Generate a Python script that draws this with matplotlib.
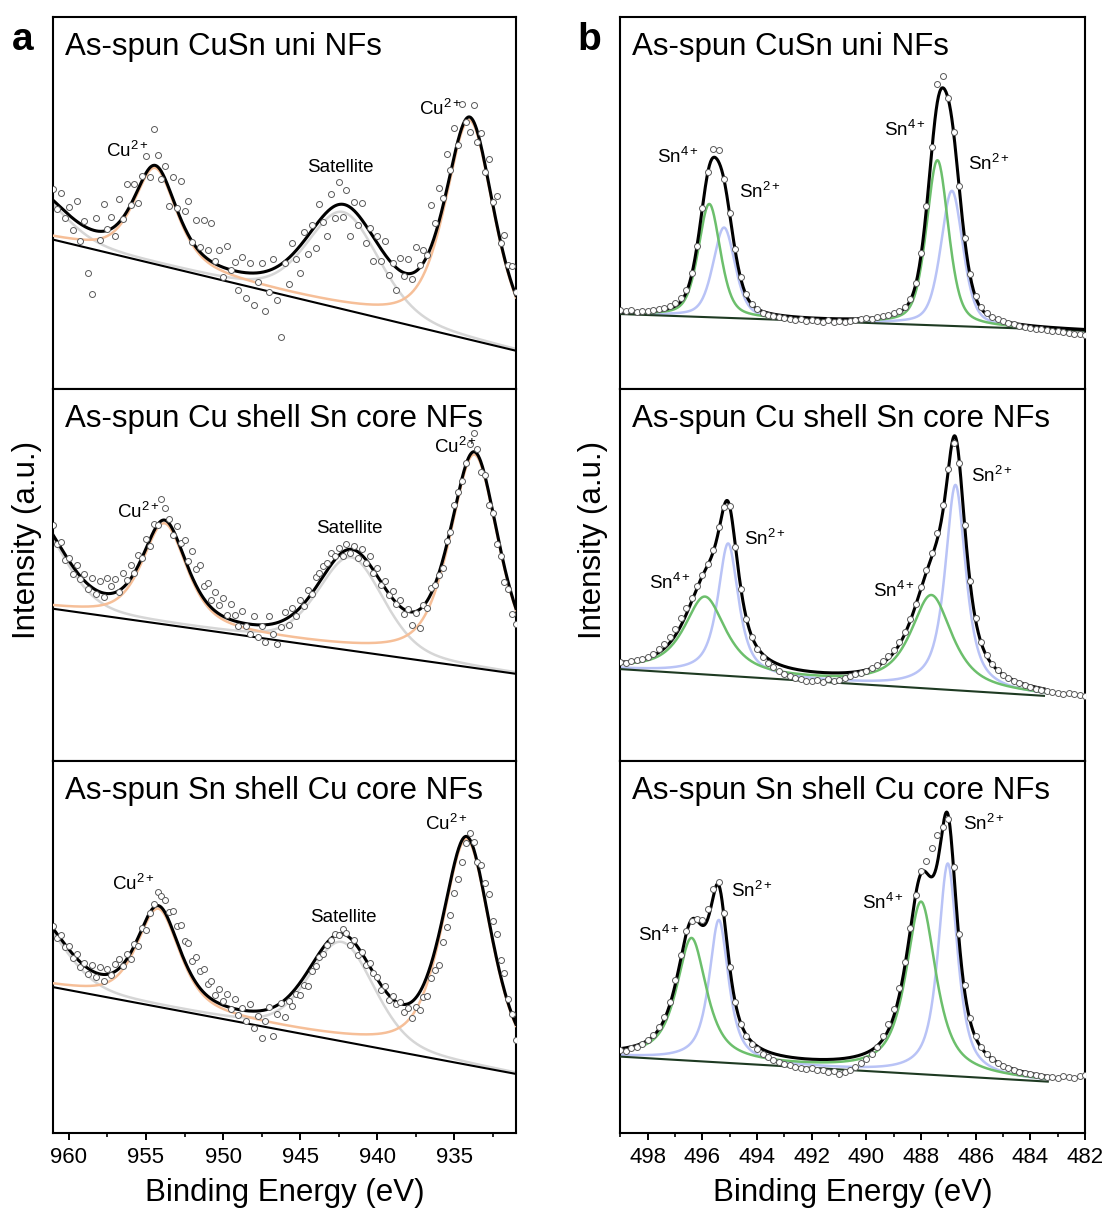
import numpy as np
import matplotlib
matplotlib.use("Agg")
import matplotlib.pyplot as plt
from matplotlib.ticker import MultipleLocator

plt.rcParams["font.family"] = ["Liberation Sans", "DejaVu Sans"]
plt.rcParams["mathtext.fontset"] = "custom"
plt.rcParams["mathtext.rm"] = "Liberation Sans"
plt.rcParams["mathtext.it"] = "Liberation Sans:italic"
plt.rcParams["mathtext.bf"] = "Liberation Sans:bold"

panel_titles = ["As-spun CuSn uni NFs", "As-spun Cu shell Sn core NFs", "As-spun Sn shell Cu core NFs"]

# ---------------- Cu 2p (column a) ----------------
cu_energy = np.arange(961.0, 930.9, -0.25)
cu_uni_counts = [200, 180, 196, 171, 182, 159, 188, 148, 168, 116,
                 95, 171, 149, 185, 160, 172, 153, 190, 170, 205,
                 184, 205, 186, 213, 233, 212, 260, 234, 210, 223,
                 183, 212, 181, 208, 178, 188, 147, 169, 142, 169,
                 139, 166, 128, 139, 112, 143, 119, 127, 99, 132,
                 91, 126, 84, 107, 126, 78, 97, 130, 89, 52,
                 126, 105, 146, 130, 116, 157, 135, 164, 141, 185,
                 167, 153, 195, 171, 207, 172, 199, 153, 187, 164,
                 186, 146, 161, 128, 153, 128, 148, 114, 126, 99,
                 131, 113, 130, 110, 142, 124, 139, 134, 184, 166,
                 201, 191, 235, 219, 261, 244, 285, 267, 257, 284,
                 247, 256, 217, 230, 187, 193, 146, 154, 124, 123,
                 97]
cu_cs_counts = [236, 217, 219, 201, 203, 187, 196, 182, 187, 172,
                183, 167, 180, 164, 183, 175, 182, 169, 188, 181,
                196, 188, 206, 203, 222, 215, 237, 236, 262, 253,
                242, 226, 235, 218, 221, 200, 210, 192, 196, 175,
                178, 161, 169, 156, 163, 146, 157, 146, 135, 150,
                135, 127, 145, 124, 135, 119, 145, 127, 117, 134,
                149, 136, 153, 145, 161, 155, 171, 167, 184, 188,
                195, 198, 208, 205, 213, 205, 217, 208, 215, 203,
                212, 198, 205, 188, 193, 176, 180, 166, 170, 157,
                161, 147, 152, 136, 148, 133, 156, 153, 173, 176,
                186, 193, 220, 229, 256, 269, 280, 298, 317, 328,
                312, 289, 286, 256, 248, 217, 205, 179, 172, 147,
                137]
cu_sc_counts = [207, 195, 198, 186, 187, 175, 179, 166, 170, 159,
                168, 156, 166, 152, 164, 158, 169, 174, 167, 179,
                174, 189, 187, 205, 203, 220, 229, 241, 237, 233,
                221, 222, 207, 208, 192, 190, 172, 176, 162, 164,
                149, 152, 138, 144, 132, 139, 124, 134, 118, 125,
                112, 129, 105, 117, 95, 112, 126, 97, 119, 130,
                116, 132, 127, 139, 138, 148, 147, 162, 167, 176,
                179, 188, 193, 199, 198, 204, 200, 188, 193, 178,
                181, 168, 170, 160, 156, 143, 147, 133, 137, 129,
                131, 121, 125, 115, 126, 123, 136, 137, 155, 163,
                168, 191, 206, 218, 240, 254, 271, 290, 300, 291,
                271, 268, 250, 239, 212, 199, 173, 160, 134, 119,
                93]

cu_fit_range = [961.0, 931.0]
cu_uni_baseline = [149.0, 38.0]
cu_cs_baseline = [152.0, 87.0]
cu_sc_baseline = [145.7, 59.0]
# Cu2+ 2p3/2, 2p1/2 peaks
cu_uni_cu2_center = [934.0, 954.4]
cu_uni_cu2_height = [219, 95]
cu_uni_cu2_fwhm = [3.8, 3.3]
cu_cs_cu2_center = [933.7, 953.8]
cu_cs_cu2_height = [213, 100]
cu_cs_cu2_fwhm = [3.8, 3.4]
cu_sc_cu2_center = [934.2, 954.2]
cu_sc_cu2_height = [225, 97]
cu_sc_cu2_fwhm = [3.8, 3.3]
# shake-up satellites
cu_uni_sat_center = [942.2, 962.5]
cu_uni_sat_height = [97, 45]
cu_uni_sat_fwhm = [5.5, 5.0]
cu_cs_sat_center = [941.7, 962.5]
cu_cs_sat_height = [93, 90]
cu_cs_sat_fwhm = [5.0, 5.0]
cu_sc_sat_center = [942.3, 962.5]
cu_sc_sat_height = [99, 70]
cu_sc_sat_fwhm = [5.0, 5.0]
cu_eta = [0.6, 0.3]

cu_uni_labels = [("Cu$^{2+}$", 956.2, 238), ("Satellite", 942.4, 221), ("Cu$^{2+}$", 935.9, 280)]
cu_cs_labels = [("Cu$^{2+}$", 955.5, 249), ("Satellite", 941.8, 232), ("Cu$^{2+}$", 934.9, 314)]
cu_sc_labels = [("Cu$^{2+}$", 955.8, 249), ("Satellite", 942.2, 215), ("Cu$^{2+}$", 935.5, 309)]

# ---------------- Sn 3d (column b) ----------------
sn_energy = np.round(np.arange(499.0, 481.9, -0.2), 1)
sn_uni_counts = [79, 78, 79, 77, 78, 78, 79, 80, 81, 83,
                 86, 91, 99, 116, 143, 181, 217, 240, 239, 210,
                 176, 140, 112, 95, 85, 80, 76, 74, 73, 72,
                 71, 70, 69, 70, 68, 69, 68, 67, 69, 67,
                 68, 67, 68, 69, 70, 71, 70, 72, 73, 74,
                 76, 78, 82, 90, 106, 136, 183, 242, 305, 313,
                 291, 257, 203, 151, 115, 93, 82, 76, 72, 70,
                 68, 66, 65, 63, 62, 61, 60, 60, 59, 58,
                 58, 57, 56, 55, 55, 54]
sn_cs_counts = [99, 98, 100, 101, 102, 104, 107, 112, 117, 124,
                132, 143, 153, 163, 175, 186, 197, 211, 234, 254,
                255, 214, 172, 142, 124, 112, 104, 98, 94, 90,
                87, 85, 83, 82, 80, 80, 81, 79, 82, 80,
                81, 83, 85, 87, 88, 90, 93, 96, 100, 105,
                111, 119, 129, 142, 157, 174, 191, 208, 228, 256,
                292, 318, 298, 236, 180, 143, 119, 106, 97, 91,
                86, 83, 80, 78, 76, 74, 72, 71, 70, 69,
                68, 67, 68, 67, 66, 65]
sn_sc_counts = [83, 82, 85, 86, 89, 93, 98, 106, 116, 131,
                153, 178, 202, 212, 214, 213, 224, 244, 251, 220,
                166, 131, 109, 97, 89, 84, 79, 76, 73, 71,
                69, 68, 66, 65, 64, 65, 63, 63, 61, 62,
                59, 61, 63, 66, 70, 74, 79, 86, 97, 109,
                124, 145, 171, 205, 238, 262, 272, 285, 298, 306,
                314, 266, 199, 148, 115, 97, 86, 79, 74, 70,
                67, 65, 63, 61, 60, 59, 58, 57, 56, 56,
                55, 57, 56, 55, 57, 58]

sn_uni_range = [499.0, 482.0]
sn_cs_range = [499.0, 483.5]
sn_sc_range = [499.0, 483.36]
sn_uni_baseline = [74.7, 58.0]
sn_cs_baseline = [91.7, 65.0]
sn_sc_baseline = [76.3, 51.3]
sn_uni_sn4_center = [495.75, 487.40]
sn_uni_sn4_height = [113, 165]
sn_uni_sn2_center = [495.21, 486.87]
sn_uni_sn2_height = [90, 135]
sn_uni_fwhm = [0.95, 0.95]
sn_uni_eta = 0.45
sn_cs_sn4_center = [495.91, 487.62]
sn_cs_sn4_height = [77, 93]
sn_cs_sn2_center = [495.06, 486.74]
sn_cs_sn2_height = [132, 205]
sn_cs_fwhm = [1.8, 0.9]
sn_cs_eta = 0.8
sn_sc_sn4_center = [496.40, 488.00]
sn_sc_sn4_height = [122, 172]
sn_sc_sn2_center = [495.40, 487.02]
sn_sc_sn2_height = [142, 212]
sn_sc_fwhm = [1.3, 0.85]
sn_sc_eta = 0.8

sn_uni_labels = [("Sn$^{4+}$", 496.9, 232), ("Sn$^{2+}$", 493.9, 197), ("Sn$^{4+}$", 488.6, 259), ("Sn$^{2+}$", 485.5, 225)]
sn_cs_labels = [("Sn$^{4+}$", 497.2, 178), ("Sn$^{2+}$", 493.7, 222), ("Sn$^{4+}$", 489.0, 170), ("Sn$^{2+}$", 485.4, 285)]
sn_sc_labels = [("Sn$^{4+}$", 497.6, 198), ("Sn$^{2+}$", 494.2, 242), ("Sn$^{4+}$", 489.4, 230), ("Sn$^{2+}$", 485.7, 309)]

# ---------------- styling ----------------
C_ORANGE = "#f6bf98"
C_GREY = "#d6d6d6"
C_GREEN = "#6cbf6c"
C_BLUE = "#b9c3f6"


def pseudo_voigt(E, c, h, w, eta):
    d = E - c
    lor = 1.0 / (1.0 + (2.0 * d / w) ** 2)
    gau = np.exp(-4.0 * np.log(2.0) * (d / w) ** 2)
    return h * (eta * lor + (1 - eta) * gau)


def linear_bg(E, rng, vals):
    return vals[0] + (vals[1] - vals[0]) * (E - rng[0]) / (rng[1] - rng[0])


fig = plt.figure(figsize=(11.07, 12.16), dpi=100)
col_x = [0.0483, 0.5605]
col_w = [0.4178, 0.4196]
row_y = [0.6803, 0.3743, 0.0683]
row_h = 0.3060

marker_kw = dict(marker="o", ls="none", ms=4.3, mfc="white", mec="#5a5a5a", mew=0.7, zorder=6)

cu_sets = [
    (cu_uni_counts, cu_uni_baseline, cu_uni_cu2_center, cu_uni_cu2_height, cu_uni_cu2_fwhm,
     cu_uni_sat_center, cu_uni_sat_height, cu_uni_sat_fwhm, cu_uni_labels),
    (cu_cs_counts, cu_cs_baseline, cu_cs_cu2_center, cu_cs_cu2_height, cu_cs_cu2_fwhm,
     cu_cs_sat_center, cu_cs_sat_height, cu_cs_sat_fwhm, cu_cs_labels),
    (cu_sc_counts, cu_sc_baseline, cu_sc_cu2_center, cu_sc_cu2_height, cu_sc_cu2_fwhm,
     cu_sc_sat_center, cu_sc_sat_height, cu_sc_sat_fwhm, cu_sc_labels),
]
sn_sets = [
    (sn_uni_counts, sn_uni_range, sn_uni_baseline, sn_uni_sn4_center, sn_uni_sn4_height,
     sn_uni_sn2_center, sn_uni_sn2_height, sn_uni_fwhm, sn_uni_eta, sn_uni_labels),
    (sn_cs_counts, sn_cs_range, sn_cs_baseline, sn_cs_sn4_center, sn_cs_sn4_height,
     sn_cs_sn2_center, sn_cs_sn2_height, sn_cs_fwhm, sn_cs_eta, sn_cs_labels),
    (sn_sc_counts, sn_sc_range, sn_sc_baseline, sn_sc_sn4_center, sn_sc_sn4_height,
     sn_sc_sn2_center, sn_sc_sn2_height, sn_sc_fwhm, sn_sc_eta, sn_sc_labels),
]


def style_axis(ax, bottom, major, minor, xlim):
    ax.set_xlim(*xlim)
    ax.set_ylim(0, 372)
    ax.set_yticks([])
    for s in ax.spines.values():
        s.set_linewidth(1.5)
    if bottom:
        ax.xaxis.set_major_locator(MultipleLocator(major))
        ax.xaxis.set_minor_locator(MultipleLocator(minor))
        ax.tick_params(axis="x", which="major", direction="out", length=5, width=1.4,
                       labelsize=16, pad=5)
        ax.tick_params(axis="x", which="minor", direction="out", length=3, width=1.2)
    else:
        ax.set_xticks([])
        ax.xaxis.set_minor_locator(plt.NullLocator())


for r in range(3):
    # ---- Cu column ----
    counts, bl, c2c, c2h, c2w, sc, sh, sw, labels = cu_sets[r]
    ax = fig.add_axes([col_x[0], row_y[r], col_w[0], row_h])
    Ef = np.linspace(cu_fit_range[0], cu_fit_range[1], 800)
    base = linear_bg(Ef, cu_fit_range, bl)
    cu2 = sum(pseudo_voigt(Ef, c, h, w, cu_eta[0]) for c, h, w in zip(c2c, c2h, c2w))
    sat = sum(pseudo_voigt(Ef, c, h, w, cu_eta[1]) for c, h, w in zip(sc, sh, sw))
    ax.plot(Ef, base + sat, color=C_GREY, lw=1.8, zorder=2)
    ax.plot(Ef, base + cu2, color=C_ORANGE, lw=1.8, zorder=3)
    ax.plot(Ef, base, color="black", lw=1.5, zorder=4)
    ax.plot(Ef, base + cu2 + sat, color="black", lw=2.2, zorder=5)
    ax.plot(cu_energy, counts, **marker_kw)
    for txt, ex, ey in labels:
        ax.text(ex, ey, txt, fontsize=13.5, ha="center", va="center", zorder=7)
    ax.text(0.025, 0.898, panel_titles[r], transform=ax.transAxes, fontsize=22.5,
            ha="left", va="baseline")
    style_axis(ax, r == 2, 5, 2.5, (961, 931))

    # ---- Sn column ----
    counts, rng, bl, c4, h4, c2, h2, fw, eta, labels = sn_sets[r]
    ax = fig.add_axes([col_x[1], row_y[r], col_w[1], row_h])
    Ef = np.linspace(rng[0], rng[1], 800)
    base = linear_bg(Ef, rng, bl)
    sn4 = sum(pseudo_voigt(Ef, c, h, fw[0], eta) for c, h in zip(c4, h4))
    sn2 = sum(pseudo_voigt(Ef, c, h, fw[1], eta) for c, h in zip(c2, h2))
    ax.plot(Ef, base + sn2, color=C_BLUE, lw=1.8, zorder=2)
    ax.plot(Ef, base + sn4, color=C_GREEN, lw=1.8, zorder=3)
    ax.plot(Ef, base, color="#1e3a22", lw=1.5, zorder=4)
    ax.plot(Ef, base + sn4 + sn2, color="black", lw=2.2, zorder=5)
    ax.plot(sn_energy, counts, **marker_kw)
    for txt, ex, ey in labels:
        ax.text(ex, ey, txt, fontsize=13.5, ha="center", va="center", zorder=7)
    ax.text(0.025, 0.898, panel_titles[r], transform=ax.transAxes, fontsize=22.5,
            ha="left", va="baseline")
    style_axis(ax, r == 2, 2, 1, (499, 482))

fig.text(0.0244, 0.556, "Intensity (a.u.)", rotation=90, fontsize=22.5, ha="center", va="center")
fig.text(0.5357, 0.556, "Intensity (a.u.)", rotation=90, fontsize=22.5, ha="center", va="center")
fig.text(0.2572, 0.0189, "Binding Energy (eV)", fontsize=22.5, ha="center", va="center")
fig.text(0.7703, 0.0189, "Binding Energy (eV)", fontsize=22.5, ha="center", va="center")
fig.text(0.011, 0.9589, "a", fontsize=28, fontweight="bold", ha="left", va="baseline")
fig.text(0.522, 0.9589, "b", fontsize=28, fontweight="bold", ha="left", va="baseline")

fig.savefig("out.png", dpi=100)
